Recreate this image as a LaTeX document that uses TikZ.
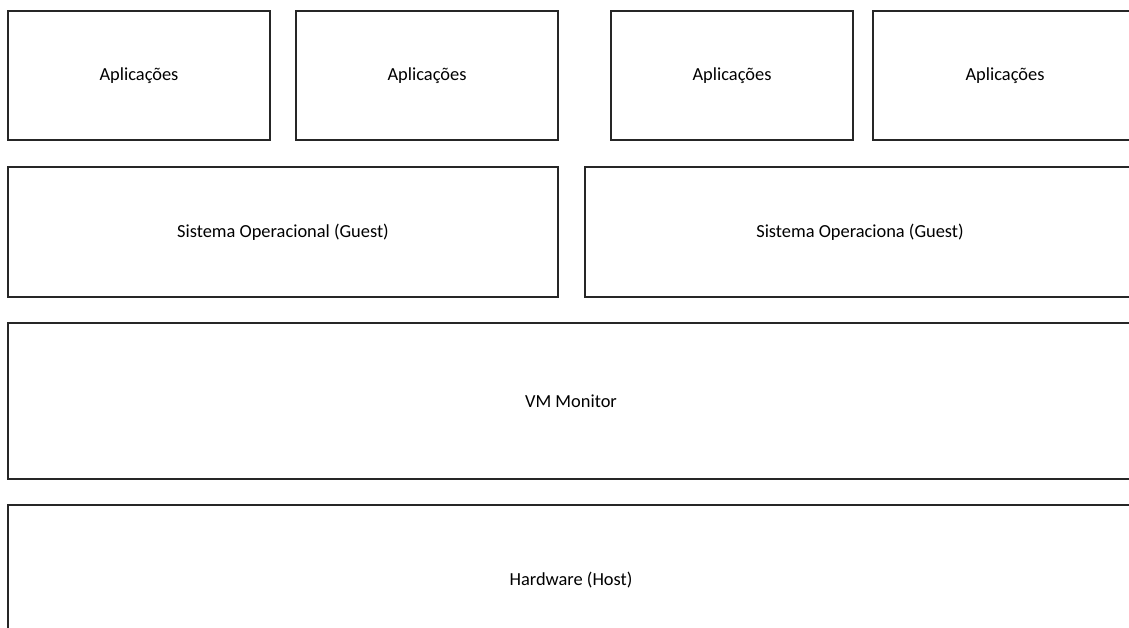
\documentclass[tikz,border=0pt]{standalone}
\usepackage{fontspec}
\setmainfont{Carlito}
\definecolor{vmline}{HTML}{262626}

\begin{document}
\begin{tikzpicture}[x=1pt, y=-1pt,
        box/.style={draw=vmline, line width=1.4pt, fill=white, inner sep=0pt,
                    align=center, font=\fontsize{18.4}{21}\selectfont},
        app/.style={box, minimum height=129pt},
        guest/.style={box, minimum height=130pt}
      ]
        \useasboundingbox (0,0) rectangle (1129,627);
        \clip (0,0) rectangle (1129,627);

        \node[app, minimum width=262pt] (appa) at (139,75.5) {Aplicações};
        \node[app, minimum width=262pt] (appb) at (427,75.5) {Aplicações};
        \node[app, minimum width=242pt] (appc) at (732,75.5) {Aplicações};
        \node[app, minimum width=264pt] (appd) at (1005,75.5) {Aplicações};

        \node[guest, minimum width=550pt] (sosa) at (283,232) {Sistema Operacional (Guest)};
        \node[guest, minimum width=550pt] (sosb) at (860,232) {Sistema Operaciona (Guest)};

        \node[box, minimum width=1126pt, minimum height=156pt] (vmm) at (571,401) {VM Monitor};
        \node[box, minimum width=1126pt, minimum height=150pt] (hw)  at (571,580) {Hardware (Host)};
      \end{tikzpicture}
\end{document}
